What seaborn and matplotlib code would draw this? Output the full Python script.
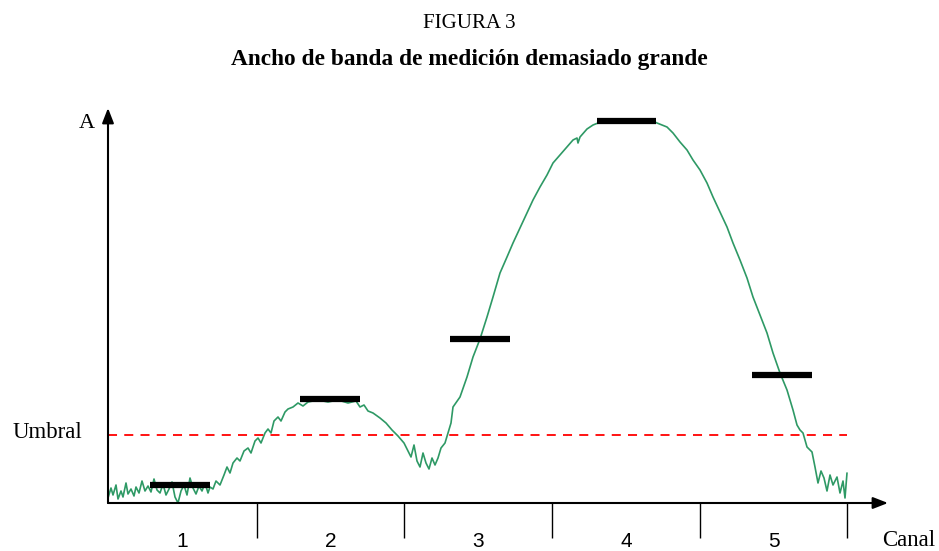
import numpy as np
import pandas as pd
import matplotlib
matplotlib.use("Agg")
import matplotlib.pyplot as plt
import seaborn as sns

# ---- data (x = position along the channel axis, y = amplitude) ----
curve_x = [0, 3, 5, 8, 10, 13, 15, 18, 20, 23, 26, 28, 31, 34, 37, 40, 43, 46, 49, 52,
           55, 58, 61, 64, 67, 70, 73, 76, 79, 82, 85, 88, 91, 94, 97, 100, 102,
           105, 108, 112, 116, 119, 122, 125, 129, 132, 136, 140, 143, 147, 150, 153,
           157, 160, 163, 166, 170, 173, 177, 180, 185, 190, 195, 200, 210, 220, 230,
           240, 248, 252, 256, 260, 265, 272, 278, 284, 290, 296, 300, 303, 306, 309,
           312, 315, 318, 321, 324, 327, 330, 333, 337, 340, 343, 345, 352, 359, 365,
           372, 379, 385, 392, 399, 405, 412, 419, 425, 432, 439, 445, 452, 459, 465,
           469, 470, 472, 479, 485, 490, 500, 520, 545, 549, 559, 565, 572, 579, 585,
           592, 599, 605, 612, 619, 625, 632, 639, 645, 652, 659, 665, 672, 679, 685,
           689, 692, 695, 699, 704, 707, 710, 713, 716, 719, 722, 725, 729, 732, 735,
           737, 739]
curve_y = [5, 15, 8, 18, 4, 12, 6, 20, 9, 14, 7, 16, 10, 22, 12, 17, 11, 24, 13, 10,
           19, 8, 14, 21, 6, 0, 12, 18, 8, 25, 15, 9, 17, 12, 20, 10, 16,
           14, 22, 18, 28, 36, 30, 40, 45, 42, 52, 55, 50, 62, 65, 60,
           70, 74, 70, 82, 86, 82, 91, 94, 96, 100, 97, 101, 103, 101, 103,
           100, 102, 96, 98, 92, 90, 85, 80, 73, 67, 60, 52, 46, 58, 42,
           36, 50, 40, 34, 45, 38, 45, 55, 60, 70, 80, 96, 106, 126, 146,
           164, 186, 206, 230, 246, 260, 275, 290, 303, 316, 328, 340, 348, 356, 363,
           365, 360, 366, 374, 378, 380, 382, 383, 382, 380, 376, 370, 361, 353, 343,
           333, 320, 306, 291, 276, 260, 243, 225, 206, 188, 170, 150, 130, 113, 93,
           78, 73, 70, 56, 51, 36, 20, 32, 25, 12, 28, 18, 26, 10, 22,
           5, 30]

canales = ["1", "2", "3", "4", "5"]
bordes_canal = [0, 149, 296, 444, 592, 739]
barra_inicio = [42, 192, 342, 489, 644]
barra_fin = [102, 252, 402, 548, 704]
barra_nivel = [18, 104, 164, 382, 128]
umbral = 68

df = pd.DataFrame({"x": curve_x, "y": curve_y})

sns.set_style("white")
plt.rcParams["font.family"] = ["Liberation Serif", "DejaVu Serif"]
plt.rcParams["text.color"] = "black"
plt.rcParams["xtick.color"] = "black"
plt.rcParams["xtick.labelcolor"] = "black"

fig = plt.figure(figsize=(9.39, 5.51), dpi=100)
ax = fig.add_axes([108 / 939, 48 / 551, 792 / 939, 403 / 551])
ax.set_xlim(0, 792)
ax.set_ylim(0, 403)

sns.lineplot(data=df, x="x", y="y", ax=ax, color="#2E9965", linewidth=1.2, clip_on=False)
ax.axhline(umbral, xmin=0, xmax=739 / 792, color="red", linestyle=(0, (5, 4)), linewidth=1.3)
ax.hlines(barra_nivel, barra_inicio, barra_fin, color="black", linewidth=4.5)

# axes with arrows
for s in ax.spines.values():
    s.set_visible(False)
arrow = dict(arrowstyle="-|>,head_length=0.9,head_width=0.35", color="black", lw=1.5,
             shrinkA=0, shrinkB=0)
ax.annotate("", xy=(780, 0), xytext=(0, 0), arrowprops=arrow, annotation_clip=False)
ax.annotate("", xy=(0, 395), xytext=(0, 0), arrowprops=arrow, annotation_clip=False)

# channel separators and labels
centros = [(a + b) / 2 for a, b in zip(bordes_canal[:-1], bordes_canal[1:])]
ax.set_xticks(bordes_canal[1:], minor=True)
ax.set_xticks(centros)
ax.set_xticklabels(canales, family=["Liberation Sans"], fontsize=15, color="black")
ax.tick_params(axis="x", which="minor", length=25, width=1, direction="out", bottom=True,
               color="black")
ax.tick_params(axis="x", which="major", length=0, pad=21)
ax.set_yticks([])
ax.set_xlabel("")
ax.set_ylabel("")

ax.text(-13, 379, "A", ha="right", va="center", fontsize=16)
ax.text(-26, 71, "Umbral", ha="right", va="center", fontsize=16.5)
ax.text(774, -38, "Canal", ha="left", va="center", fontsize=16.5)

fig.text(0.5, 1 - 23 / 551, "FIGURA 3", ha="center", va="center", fontsize=15)
fig.text(0.5, 1 - 60 / 551, "Ancho de banda de medición demasiado grande",
         ha="center", va="center", fontsize=16.8, fontweight="bold")

fig.savefig("out.png", dpi=100)
